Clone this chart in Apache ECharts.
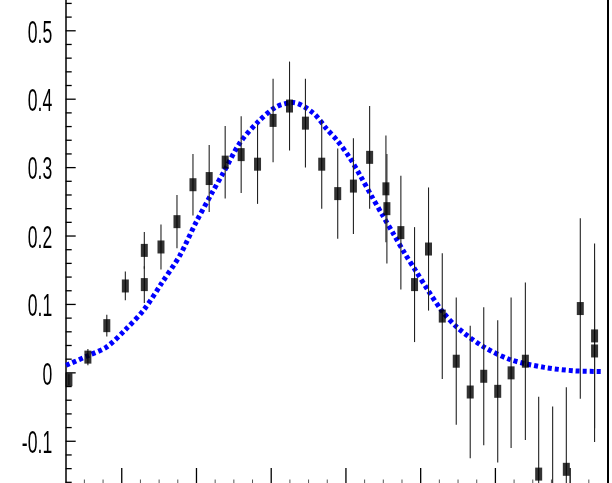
<!DOCTYPE html>
<html>
<head>
<meta charset="utf-8">
<script src="https://cdn.jsdelivr.net/npm/echarts@6/dist/echarts.min.js"></script>
<style>
html,body{margin:0;padding:0;background:#fff;}
#c{width:612px;height:483px;}
</style>
</head>
<body>
<div id="c"></div>
<script>
// ---- data ----
var pointX = [0.293, 0.547, 0.800, 1.048, 1.302, 1.302, 1.525, 1.739, 1.953, 2.170, 2.384, 2.598, 2.817, 3.025, 3.245, 3.458, 3.676, 3.890, 4.100, 4.317, 4.535, 4.548, 4.735, 4.918, 5.105, 5.289, 5.476, 5.663, 5.844, 6.031, 6.210, 6.401, 6.579, 6.766, 6.949, 7.136, 7.327, 7.327];
var pointY = [-0.010, 0.023, 0.069, 0.127, 0.179, 0.129, 0.184, 0.221, 0.275, 0.284, 0.308, 0.319, 0.305, 0.369, 0.390, 0.365, 0.305, 0.262, 0.273, 0.315, 0.269, 0.240, 0.205, 0.129, 0.181, 0.083, 0.017, -0.028, -0.005, -0.027, 0.000, 0.017, -0.148, -0.180, -0.141, 0.094, 0.054, 0.032];
var pointErr = [0.008, 0.012, 0.016, 0.021, 0.027, 0.027, 0.033, 0.039, 0.045, 0.049, 0.053, 0.056, 0.058, 0.061, 0.065, 0.065, 0.065, 0.066, 0.070, 0.075, 0.078, 0.080, 0.083, 0.084, 0.090, 0.092, 0.093, 0.097, 0.101, 0.104, 0.110, 0.115, 0.113, 0.131, 0.120, 0.132, 0.135, 0.133];

var curveX = [0.256, 0.546, 0.800, 1.048, 1.302, 1.534, 1.779, 1.989, 2.202, 2.357, 2.580, 2.825, 3.071, 3.293, 3.560, 3.739, 3.880, 4.041, 4.193, 4.340, 4.487, 4.642, 4.785, 4.941, 5.096, 5.289, 5.493, 5.844, 6.210, 6.655, 7.056, 7.450];
var curveY = [0.011, 0.025, 0.038, 0.063, 0.093, 0.131, 0.172, 0.219, 0.262, 0.292, 0.336, 0.367, 0.389, 0.395, 0.380, 0.357, 0.340, 0.316, 0.288, 0.259, 0.231, 0.202, 0.175, 0.148, 0.121, 0.090, 0.066, 0.038, 0.019, 0.008, 0.003, 0.002];

var yMajorTicks = [-0.1, 0, 0.1, 0.2, 0.3, 0.4, 0.5];
var yTickLabels = ['-0.1', '0', '0.1', '0.2', '0.3', '0.4', '0.5'];
var yMinorTicks = [-0.16, -0.14, -0.12, -0.08, -0.06, -0.04, -0.02, 0.02, 0.04, 0.06, 0.08, 0.12, 0.14, 0.16, 0.18, 0.22, 0.24, 0.26, 0.28, 0.32, 0.34, 0.36, 0.38, 0.42, 0.44, 0.46, 0.48, 0.52, 0.54];
var xMajorTicks = [1, 2, 3, 4, 5, 6, 7];
var xMinorTicks = [0.5, 0.75, 1.25, 1.5, 1.75, 2.25, 2.5, 2.75, 3.25, 3.5, 3.75, 4.25, 4.5, 4.75, 5.25, 5.5, 5.75, 6.25, 6.5, 6.75, 7.25];

var X_MIN = 0.25, X_MAX = 7.5, Y_MIN = -0.161, Y_MAX = 0.545;

var points = pointX.map(function (x, i) { return [x, pointY[i]]; });
var errBars = pointX.map(function (x, i) { return [x, pointY[i], pointErr[i]]; });
var curve = curveX.map(function (x, i) { return [x, curveY[i]]; });

var chart = echarts.init(document.getElementById('c'));

function renderAxisDecor(params, api) {
  var children = [];
  var black = '#000';
  yMajorTicks.forEach(function (v, i) {
    var p = api.coord([X_MIN, v]);
    children.push({ type: 'line', shape: { x1: p[0], y1: p[1], x2: p[0] + 10, y2: p[1] }, style: { stroke: black, lineWidth: 1.3 } });
    children.push({
      type: 'text', x: p[0] - 13.5, y: p[1] + 3, scaleX: 0.55, scaleY: 1,
      style: { text: yTickLabels[i], fontSize: 32, fontFamily: 'Liberation Sans, Arial, sans-serif', align: 'right', verticalAlign: 'middle', fill: black }
    });
  });
  yMinorTicks.forEach(function (v) {
    var p = api.coord([X_MIN, v]);
    children.push({ type: 'line', shape: { x1: p[0], y1: p[1], x2: p[0] + 6, y2: p[1] }, style: { stroke: black, lineWidth: 1.3 } });
  });
  xMajorTicks.forEach(function (v) {
    var p = api.coord([v, Y_MIN]);
    children.push({ type: 'line', shape: { x1: p[0], y1: p[1], x2: p[0], y2: p[1] - 15 }, style: { stroke: black, lineWidth: 1.3 } });
  });
  xMinorTicks.forEach(function (v) {
    var p = api.coord([v, Y_MIN]);
    children.push({ type: 'line', shape: { x1: p[0], y1: p[1], x2: p[0], y2: p[1] - 3.5 }, style: { stroke: '#555', lineWidth: 1 } });
  });
  return { type: 'group', children: children };
}

function renderErr(params, api) {
  var x = api.value(0), y = api.value(1), e = api.value(2);
  var a = api.coord([x, y - e]);
  var b = api.coord([x, y + e]);
  return { type: 'line', shape: { x1: a[0], y1: a[1], x2: b[0], y2: b[1] }, style: { stroke: '#222', lineWidth: 1.1 } };
}

chart.setOption({
  animation: false,
  backgroundColor: '#fff',
  grid: { left: 65.7, right: 4.5, top: 0, bottom: 0, containLabel: false },
  xAxis: {
    type: 'value', min: X_MIN, max: X_MAX,
    axisLine: { show: false }, axisTick: { show: false }, axisLabel: { show: false }, splitLine: { show: false }
  },
  yAxis: [
    { type: 'value', min: Y_MIN, max: Y_MAX, position: 'left',
      axisLine: { show: true, lineStyle: { color: '#000', width: 1.5 } },
      axisTick: { show: false }, axisLabel: { show: false }, splitLine: { show: false } },
    { type: 'value', min: Y_MIN, max: Y_MAX, position: 'right',
      axisLine: { show: true, lineStyle: { color: '#000', width: 2 } },
      axisTick: { show: false }, axisLabel: { show: false }, splitLine: { show: false } }
  ],
  series: [
    { type: 'custom', name: 'axisDecor', renderItem: renderAxisDecor, data: [0], clip: false, silent: true, z: 5 },
    { type: 'line', name: 'fit', data: curve, smooth: 0.3, showSymbol: false, symbol: 'none',
      lineStyle: { color: '#0000ff', width: 5, type: [4, 3] }, z: 2 },
    { type: 'custom', name: 'errors', renderItem: renderErr, data: errBars, clip: false, z: 3 },
    { type: 'scatter', name: 'data', data: points, symbol: 'rect', symbolSize: [7, 13],
      itemStyle: { color: '#000' }, z: 4 }
  ]
});
</script>
</body>
</html>
